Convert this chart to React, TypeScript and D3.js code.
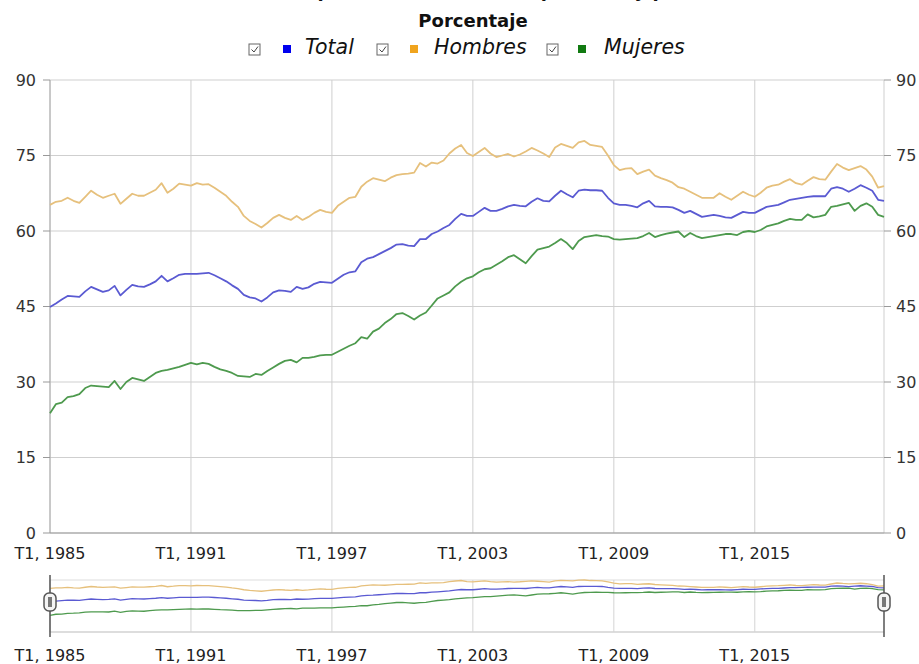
import * as d3 from "d3";
import React from "react";

// quarterly data, T1 1985 .. T3 2020
const startYear = 1985;
const tickYears = [1985, 1991, 1997, 2003, 2009, 2015];
const yTicks = [0, 15, 30, 45, 60, 75, 90];

const total = [
  44.9, 45.6, 46.4, 47.1, 47.0, 46.9, 48.0, 48.9, 48.4, 47.9, 48.2, 49.1,
  47.2, 48.3, 49.3, 49.0, 48.9, 49.4, 50.0, 51.1, 50.0, 50.6, 51.3, 51.5,
  51.5, 51.5, 51.6, 51.7, 51.2, 50.6, 50.0, 49.2, 48.5, 47.3, 46.8, 46.6,
  46.0, 46.8, 47.8, 48.2, 48.1, 47.9, 48.9, 48.5, 48.8, 49.5, 49.9, 49.8,
  49.7, 50.5, 51.3, 51.8, 52.0, 53.8, 54.5, 54.8, 55.4, 56.0, 56.6, 57.3,
  57.4, 57.1, 57.0, 58.4, 58.4, 59.4, 59.9, 60.6, 61.2, 62.4, 63.4, 63.0,
  63.0, 63.8, 64.6, 64.0, 64.0, 64.4, 64.9, 65.2, 65.0, 64.9, 65.8, 66.5,
  66.0, 65.9, 67.0, 68.0, 67.3, 66.7, 68.0, 68.2, 68.1, 68.1, 68.0, 66.6,
  65.5, 65.2, 65.2, 65.0, 64.7, 65.5, 66.0, 64.9, 64.8, 64.8, 64.7, 64.2,
  63.6, 64.0, 63.4, 62.8, 63.0, 63.2, 63.0, 62.7, 62.6, 63.2, 63.8, 63.6,
  63.6, 64.2, 64.8, 65.0, 65.2, 65.7, 66.2, 66.4, 66.6, 66.8, 66.9, 66.9,
  66.9, 68.4, 68.7, 68.4, 67.8, 68.4, 69.1, 68.6, 68.0, 66.2, 66.0,
];

const hombres = [
  65.2, 65.8, 66.0, 66.6, 66.0, 65.6, 66.8, 68.0, 67.2, 66.6, 67.0, 67.4,
  65.4, 66.4, 67.4, 67.0, 67.0, 67.6, 68.2, 69.5, 67.6, 68.4, 69.4, 69.2,
  69.0, 69.5, 69.2, 69.3, 68.6, 67.8, 67.0, 65.8, 64.8, 63.0, 62.0, 61.4,
  60.7, 61.6, 62.6, 63.2, 62.6, 62.2, 63.0, 62.2, 62.8, 63.6, 64.2, 63.8,
  63.6, 65.0, 65.8, 66.6, 66.8, 68.8, 69.8, 70.5, 70.2, 69.9, 70.6, 71.1,
  71.3, 71.4, 71.6, 73.5, 72.8, 73.6, 73.4, 74.0, 75.4, 76.4, 77.1, 75.5,
  74.9, 75.7, 76.5, 75.4, 74.7, 75.0, 75.3, 74.8, 75.2, 75.8, 76.5, 76.0,
  75.4, 74.7, 76.6, 77.3, 76.9, 76.5, 77.6, 77.9, 77.1, 76.9, 76.7, 75.0,
  73.1, 72.1, 72.4, 72.5, 71.3, 71.8, 72.2, 71.0, 70.5, 70.1, 69.6, 68.7,
  68.4, 67.8, 67.2, 66.6, 66.6, 66.6, 67.5, 66.8, 66.2, 67.0, 67.8, 67.2,
  66.8, 67.6, 68.6, 69.0, 69.2, 69.8, 70.3, 69.5, 69.2, 70.0, 70.7, 70.3,
  70.2, 71.8, 73.3, 72.6, 72.1, 72.5, 72.9, 72.2, 70.8, 68.6, 68.9,
];

const mujeres = [
  23.8, 25.6, 25.9, 27.0, 27.2, 27.6, 28.8, 29.3, 29.2, 29.1, 29.0, 30.2,
  28.6, 30.0, 30.8, 30.5, 30.2, 31.0, 31.8, 32.2, 32.4, 32.7, 33.0, 33.4,
  33.8, 33.5, 33.8, 33.6, 33.0, 32.5, 32.2, 31.8, 31.2, 31.1, 31.0, 31.6,
  31.4, 32.2, 32.9, 33.6, 34.2, 34.4, 33.9, 34.8, 34.8, 35.0, 35.3, 35.4,
  35.4, 36.0, 36.6, 37.2, 37.7, 38.9, 38.6, 40.0, 40.6, 41.7, 42.5, 43.5,
  43.7, 43.1, 42.4, 43.2, 43.8, 45.2, 46.6, 47.2, 47.8, 49.0, 49.9, 50.6,
  51.0, 51.8, 52.4, 52.6, 53.3, 54.0, 54.8, 55.2, 54.4, 53.6, 55.0, 56.3,
  56.6, 56.9, 57.6, 58.4, 57.6, 56.4, 58.0, 58.8, 59.0, 59.2, 59.0, 58.9,
  58.4, 58.3, 58.4, 58.5, 58.6, 59.0, 59.6, 58.8, 59.2, 59.5, 59.7, 59.9,
  58.8, 59.6, 59.0, 58.6, 58.8, 59.0, 59.2, 59.4, 59.4, 59.2, 59.8, 60.0,
  59.8, 60.2, 60.9, 61.2, 61.5, 62.0, 62.4, 62.2, 62.2, 63.3, 62.7, 62.9,
  63.2, 64.8, 65.0, 65.3, 65.6, 64.0, 65.0, 65.5, 64.8, 63.2, 62.8,
];

const seriesNames = ["Total", "Hombres", "Mujeres"];

export default function App() {
  const W = 919;
  const H = 664;
  const left = 50;
  const right = 884;
  const top = 80;
  const bottom = 533;
  const navTop = 580;
  const navBottom = 632;
  const font = "'DejaVu Sans', Verdana, sans-serif";

  const series = [
    { name: seriesNames[0], values: total, stroke: "#5a5ad2", swatch: "#0000ee" },
    { name: seriesNames[1], values: hombres, stroke: "#e6c07c", swatch: "#f0a41e" },
    { name: seriesNames[2], values: mujeres, stroke: "#4e9a4e", swatch: "#117a11" },
  ];

  const n = total.length;
  const x = d3.scaleLinear().domain([0, n - 1]).range([left, right]);
  const y = d3.scaleLinear().domain([0, 90]).range([bottom, top]);
  const maxAll = d3.max([...total, ...hombres, ...mujeres]) as number;
  const yNav = d3.scaleLinear().domain([0, maxAll]).range([navBottom - 1, navTop]);

  const line = d3.line<number>().x((d, i) => x(i)).y(d => y(d));
  const navLine = d3.line<number>().x((d, i) => x(i)).y(d => yNav(d));

  const tickIdx = tickYears.map(yr => (yr - startYear) * 4);

  // legend layout
  const legendItems = [
    { box: 249, sw: 283, tx: 305 },
    { box: 377, sw: 410, tx: 434 },
    { box: 547, sw: 578, tx: 604 },
  ];

  const handle = (cx: number) => (
    <g>
      <line x1={cx} x2={cx} y1={575} y2={637} stroke="#555" strokeWidth={1.5} />
      <rect x={cx - 6} y={593} width={12} height={18} rx={5} fill="#f4f4f4" stroke="#555" strokeWidth={1.5} />
      <rect x={cx - 2} y={597} width={4} height={10} fill="#777" />
    </g>
  );

  return (
    <div style={{ position: "fixed", left: 0, top: 0 }}>
      <svg width={W} height={H} style={{ display: "block", background: "#fff" }} fontFamily={font}>
        {/* titles (first line runs off the top, as in the source) */}
        <text x={467} y={-3} textAnchor="middle" fontSize={18} fontWeight="bold" fill="#111">
          Tasa de empleo de 25 a 54 años, por sexo y periodo
        </text>
        <text x={473} y={27} textAnchor="middle" fontSize={18} fontWeight="bold" fill="#111">
          Porcentaje
        </text>

        {/* legend */}
        {series.map((s, i) => {
          const L = legendItems[i];
          return (
            <g key={s.name}>
              <rect x={L.box} y={44} width={11} height={11} fill="#fff" stroke="#666" strokeWidth={1} />
              <path
                d={`M${L.box + 2.5},${49.5} L${L.box + 5},${52} L${L.box + 9},${46.5}`}
                fill="none"
                stroke="#444"
                strokeWidth={1}
              />
              <rect x={L.sw} y={45} width={8} height={8} fill={s.swatch} />
              <text x={L.tx} y={54} fontSize={20.5} fontStyle="italic" fill="#111">
                {s.name}
              </text>
            </g>
          );
        })}

        {/* grid */}
        {yTicks.map(t => (
          <line key={"h" + t} x1={left} x2={right} y1={y(t)} y2={y(t)} stroke="#cfcfcf" />
        ))}
        {tickIdx.map(i => (
          <line key={"v" + i} x1={x(i)} x2={x(i)} y1={top} y2={bottom} stroke="#cfcfcf" />
        ))}
        <line x1={right} x2={right} y1={top} y2={bottom} stroke="#cfcfcf" />

        {/* axes */}
        <line x1={left} x2={left} y1={top} y2={bottom} stroke="#aaa" />
        <line x1={left} x2={right} y1={bottom} y2={bottom} stroke="#999" />
        {yTicks.map(t => (
          <g key={"yt" + t}>
            <line x1={left - 7} x2={left} y1={y(t)} y2={y(t)} stroke="#999" />
            <text x={36} y={y(t)} dy="0.35em" textAnchor="end" fontSize={16} fill="#333">
              {t}
            </text>
            <line x1={right} x2={right + 7} y1={y(t)} y2={y(t)} stroke="#999" />
            <text x={896} y={y(t)} dy="0.35em" fontSize={16} fill="#333">
              {t}
            </text>
          </g>
        ))}
        {tickYears.map((yr, k) => (
          <text key={"xt" + yr} x={x(tickIdx[k])} y={559} textAnchor="middle" fontSize={16} fill="#222">
            {"T1, " + yr}
          </text>
        ))}

        {/* series */}
        {series.map(s => (
          <path key={s.name} d={line(s.values) || ""} fill="none" stroke={s.stroke} strokeWidth={1.8} strokeLinejoin="round" />
        ))}

        {/* navigator */}
        <line x1={left} x2={right} y1={navTop} y2={navTop} stroke="#ddd" />
        <line x1={left} x2={right} y1={navBottom} y2={navBottom} stroke="#bbb" />
        {tickIdx.map(i => (
          <line key={"nv" + i} x1={x(i)} x2={x(i)} y1={navTop} y2={navBottom} stroke="#d4d4d4" />
        ))}
        {series.map(s => (
          <path key={"n" + s.name} d={navLine(s.values) || ""} fill="none" stroke={s.stroke} strokeWidth={1.3} />
        ))}
        {handle(left)}
        {handle(right)}
        {tickYears.map((yr, k) => (
          <text key={"nxt" + yr} x={x(tickIdx[k])} y={661} textAnchor="middle" fontSize={16} fill="#222">
            {"T1, " + yr}
          </text>
        ))}
      </svg>
    </div>
  );
}
